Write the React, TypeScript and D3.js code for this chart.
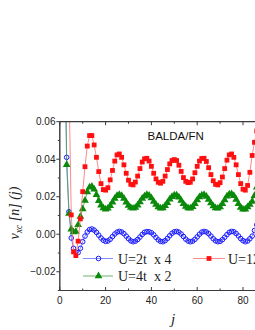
import React from "react";
import * as d3 from "d3";

const blueU2 = [
  0.25, 0.12, 0.041, 0.012, -0.002, -0.0075, -0.0095, -0.0098, -0.0075, -0.004,
  -0.001, 0.0012, 0.0025, 0.0028, 0.0022, 0.001, -0.0005, -0.002, -0.0032, -0.0038,
  -0.0036, -0.0027, -0.0013, 0.0001, 0.0011, 0.0015, 0.0012, 0.0003, -0.001, -0.0024,
  -0.0035, -0.004, -0.0037, -0.0028, -0.0015, -0.0001, 0.001, 0.0014, 0.0013, 0.0008,
  -0.0003, -0.0017, -0.003, -0.0038, -0.004, -0.0034, -0.0022, -0.0008, 0.0005, 0.0013,
  0.0015, 0.0011, 0.0001, -0.0012, -0.0026, -0.0036, -0.004, -0.0037, -0.0027, -0.0014,
  0.0, 0.0011, 0.0015, 0.0012, 0.0003, -0.001, -0.0024, -0.0035, -0.004, -0.0038,
  -0.0029, -0.0016, -0.0002, 0.001, 0.0015, 0.0013, 0.0004, -0.0009, -0.0023, -0.0034,
  -0.004, -0.0036, -0.0024, -0.001, 0.002, 0.005,
];

const redU12 = [
  0.5, 0.3, 0.15, 0.08, 0.0103, -0.0094, -0.0114, -0.0037, 0.0082, 0.0227,
  0.036, 0.047, 0.0526, 0.0526, 0.0476, 0.041, 0.0334, 0.027, 0.0238, 0.0235,
  0.0248, 0.029, 0.034, 0.039, 0.0423, 0.0428, 0.041, 0.037, 0.0325, 0.0288,
  0.0266, 0.0263, 0.0278, 0.031, 0.035, 0.0385, 0.0402, 0.0405, 0.039, 0.0362,
  0.0325, 0.0295, 0.0277, 0.0272, 0.0282, 0.031, 0.0345, 0.0375, 0.0393, 0.0398,
  0.0393, 0.0368, 0.0335, 0.0302, 0.0282, 0.0275, 0.0277, 0.0295, 0.0328, 0.0362,
  0.039, 0.0404, 0.0405, 0.0388, 0.0355, 0.0318, 0.0285, 0.0266, 0.0263, 0.0275,
  0.0305, 0.035, 0.0395, 0.0423, 0.0428, 0.041, 0.037, 0.0318, 0.027, 0.024,
  0.0235, 0.026, 0.033, 0.042, 0.049, 0.055,
];

const greenU4 = [
  0.3, 0.12, 0.037, 0.011, 0.0027, 0.0012, 0.0014, 0.005, 0.0095, 0.0135,
  0.018, 0.0225, 0.025, 0.0255, 0.024, 0.021, 0.0178, 0.0155, 0.014, 0.0133,
  0.0138, 0.0152, 0.017, 0.019, 0.0205, 0.021, 0.0205, 0.019, 0.017, 0.0153,
  0.0142, 0.0138, 0.0142, 0.0155, 0.0172, 0.019, 0.0203, 0.021, 0.0206, 0.0193,
  0.0175, 0.0158, 0.0145, 0.0139, 0.014, 0.0152, 0.0168, 0.0186, 0.02, 0.0208,
  0.0208, 0.0197, 0.018, 0.0162, 0.0148, 0.014, 0.0139, 0.0147, 0.0163, 0.0182,
  0.0198, 0.0208, 0.021, 0.0201, 0.0185, 0.0166, 0.015, 0.014, 0.0138, 0.0145,
  0.0162, 0.0183, 0.0202, 0.0213, 0.0215, 0.0205, 0.0185, 0.0162, 0.0143, 0.0133,
  0.0133, 0.0145, 0.0158, 0.0175, 0.0205, 0.025,
];

const xMajorTicks = [0, 20, 40, 60, 80];
const xMinorTicks = [10, 30, 50, 70, 90];
const yMajorTicks = [-0.02, 0.0, 0.02, 0.04, 0.06];
const yMinorTicks = [-0.03, -0.01, 0.01, 0.03, 0.05];

const W = 255;
const H = 330;
const AX = "#3a3a3a";
const SERIF = "'Liberation Serif', 'Times New Roman', serif";
const SANS = "'Liberation Sans', Arial, sans-serif";

export default function App() {
  const x = d3.scaleLinear().domain([0, 100]).range([59.8, 59.8 + 229]);
  const y = d3.scaleLinear().domain([-0.03, 0.06]).range([290.5, 121.7]);
  const fmt = d3.format(".2f");
  const pts = (arr: number[]) => arr.map((v, i) => [i + 1, v] as [number, number]);
  const line = d3
    .line<[number, number]>()
    .x((d) => x(d[0]))
    .y((d) => y(d[1]));
  const left = x(0);
  const top = y(0.06);
  const bottom = y(-0.03);
  const tri = d3.symbol().type(d3.symbolTriangle).size(26)() as string;

  const blue = pts(blueU2);
  const red = pts(redU12);
  const green = pts(greenU4);

  return (
    <svg
      width={W}
      height={H}
      style={{ position: "absolute", left: 0, top: 0, background: "#fff" }}
    >
      <defs>
        <clipPath id="plot">
          <rect x={left} y={top} width={W - left + 40} height={bottom - top} />
        </clipPath>
      </defs>

      {/* series */}
      <g clipPath="url(#plot)">
        <path d={line(blue) || ""} fill="none" stroke="#6070ff" strokeWidth={0.8} />
        {blue.map((d, i) => (
          <circle key={"b" + i} cx={x(d[0])} cy={y(d[1])} r={2.3} fill="none" stroke="#1a1aff" strokeWidth={1} />
        ))}
        <path d={line(green) || ""} fill="none" stroke="#4aa04a" strokeWidth={0.8} />
        {green.map((d, i) => (
          <path key={"g" + i} d={tri} transform={`translate(${x(d[0])},${y(d[1])})`} fill="#0a8a0a" />
        ))}
        <path d={line(red) || ""} fill="none" stroke="#ff6a6a" strokeWidth={0.8} />
        {red.map((d, i) => (
          <rect key={"r" + i} x={x(d[0]) - 2.4} y={y(d[1]) - 2.4} width={4.8} height={4.8} fill="#ff1010" />
        ))}
      </g>

      {/* axes */}
      <line x1={left} x2={W + 10} y1={top} y2={top} stroke={AX} strokeWidth={1.2} />
      <line x1={left} x2={W + 10} y1={bottom} y2={bottom} stroke={AX} strokeWidth={1.2} />
      <line x1={left} x2={left} y1={top} y2={bottom} stroke={AX} strokeWidth={1.4} />

      {xMajorTicks.map((t) => (
        <g key={"xm" + t}>
          <line x1={x(t)} x2={x(t)} y1={bottom} y2={bottom - 3.5} stroke={AX} />
          <line x1={x(t)} x2={x(t)} y1={top} y2={top + 3.5} stroke={AX} />
          <text x={x(t)} y={303.5} textAnchor="middle" fontFamily={SANS} fontSize={10} fill="#222">
            {t}
          </text>
        </g>
      ))}
      {xMinorTicks.map((t) => (
        <g key={"xn" + t}>
          <line x1={x(t)} x2={x(t)} y1={bottom} y2={bottom - 2} stroke={AX} />
          <line x1={x(t)} x2={x(t)} y1={top} y2={top + 2} stroke={AX} />
        </g>
      ))}
      {yMajorTicks.map((t) => (
        <g key={"ym" + t}>
          <line x1={left - 3.5} x2={left} y1={y(t)} y2={y(t)} stroke={AX} />
          <text x={55.5} y={y(t) + 3.5} textAnchor="end" fontFamily={SANS} fontSize={10} fill="#222">
            {fmt(t)}
          </text>
        </g>
      ))}
      {yMinorTicks.map((t) => (
        <line key={"yn" + t} x1={left - 2} x2={left} y1={y(t)} y2={y(t)} stroke={AX} />
      ))}

      {/* annotation */}
      <text x={147.5} y={140} fontFamily={SANS} fontSize={11.5} fill="#111">
        BALDA/FN
      </text>

      {/* legend */}
      <g fontFamily={SERIF} fontSize={14} fill="#222" style={{ whiteSpace: "pre" }}>
        <line x1={83} x2={113} y1={258.5} y2={258.5} stroke="#6070ff" strokeWidth={0.8} />
        <circle cx={98.5} cy={258.5} r={2.3} fill="none" stroke="#1a1aff" strokeWidth={1} />
        <text x={118} y={263.5} xmlSpace="preserve">{"U=2t  x 4"}</text>

        <line x1={83} x2={113} y1={276} y2={276} stroke="#4aa04a" strokeWidth={0.8} />
        <path d={tri} transform="translate(98.5,276)" fill="#0a8a0a" />
        <text x={118} y={281} xmlSpace="preserve">{"U=4t  x 2"}</text>

        <line x1={193} x2={225} y1={258.5} y2={258.5} stroke="#ff6a6a" strokeWidth={0.8} />
        <rect x={206.6} y={256.1} width={4.8} height={4.8} fill="#ff1010" />
        <text x={228} y={263.5}>U=12t</text>
      </g>

      {/* axis titles */}
      <text x={173} y={324} fontFamily={SERIF} fontStyle="italic" fontSize={15} fill="#222" textAnchor="middle">
        j
      </text>
      <text
        transform="translate(18.5,213) rotate(-90)"
        textAnchor="middle"
        fontFamily={SERIF}
        fontStyle="italic"
        fontSize={14}
        fill="#222"
        style={{ whiteSpace: "pre" }}
      >
        <tspan>v</tspan>
        <tspan fontSize={9.5} dy={3}>xc</tspan>
        <tspan dy={-3}>{" [n] (j)"}</tspan>
      </text>
    </svg>
  );
}
